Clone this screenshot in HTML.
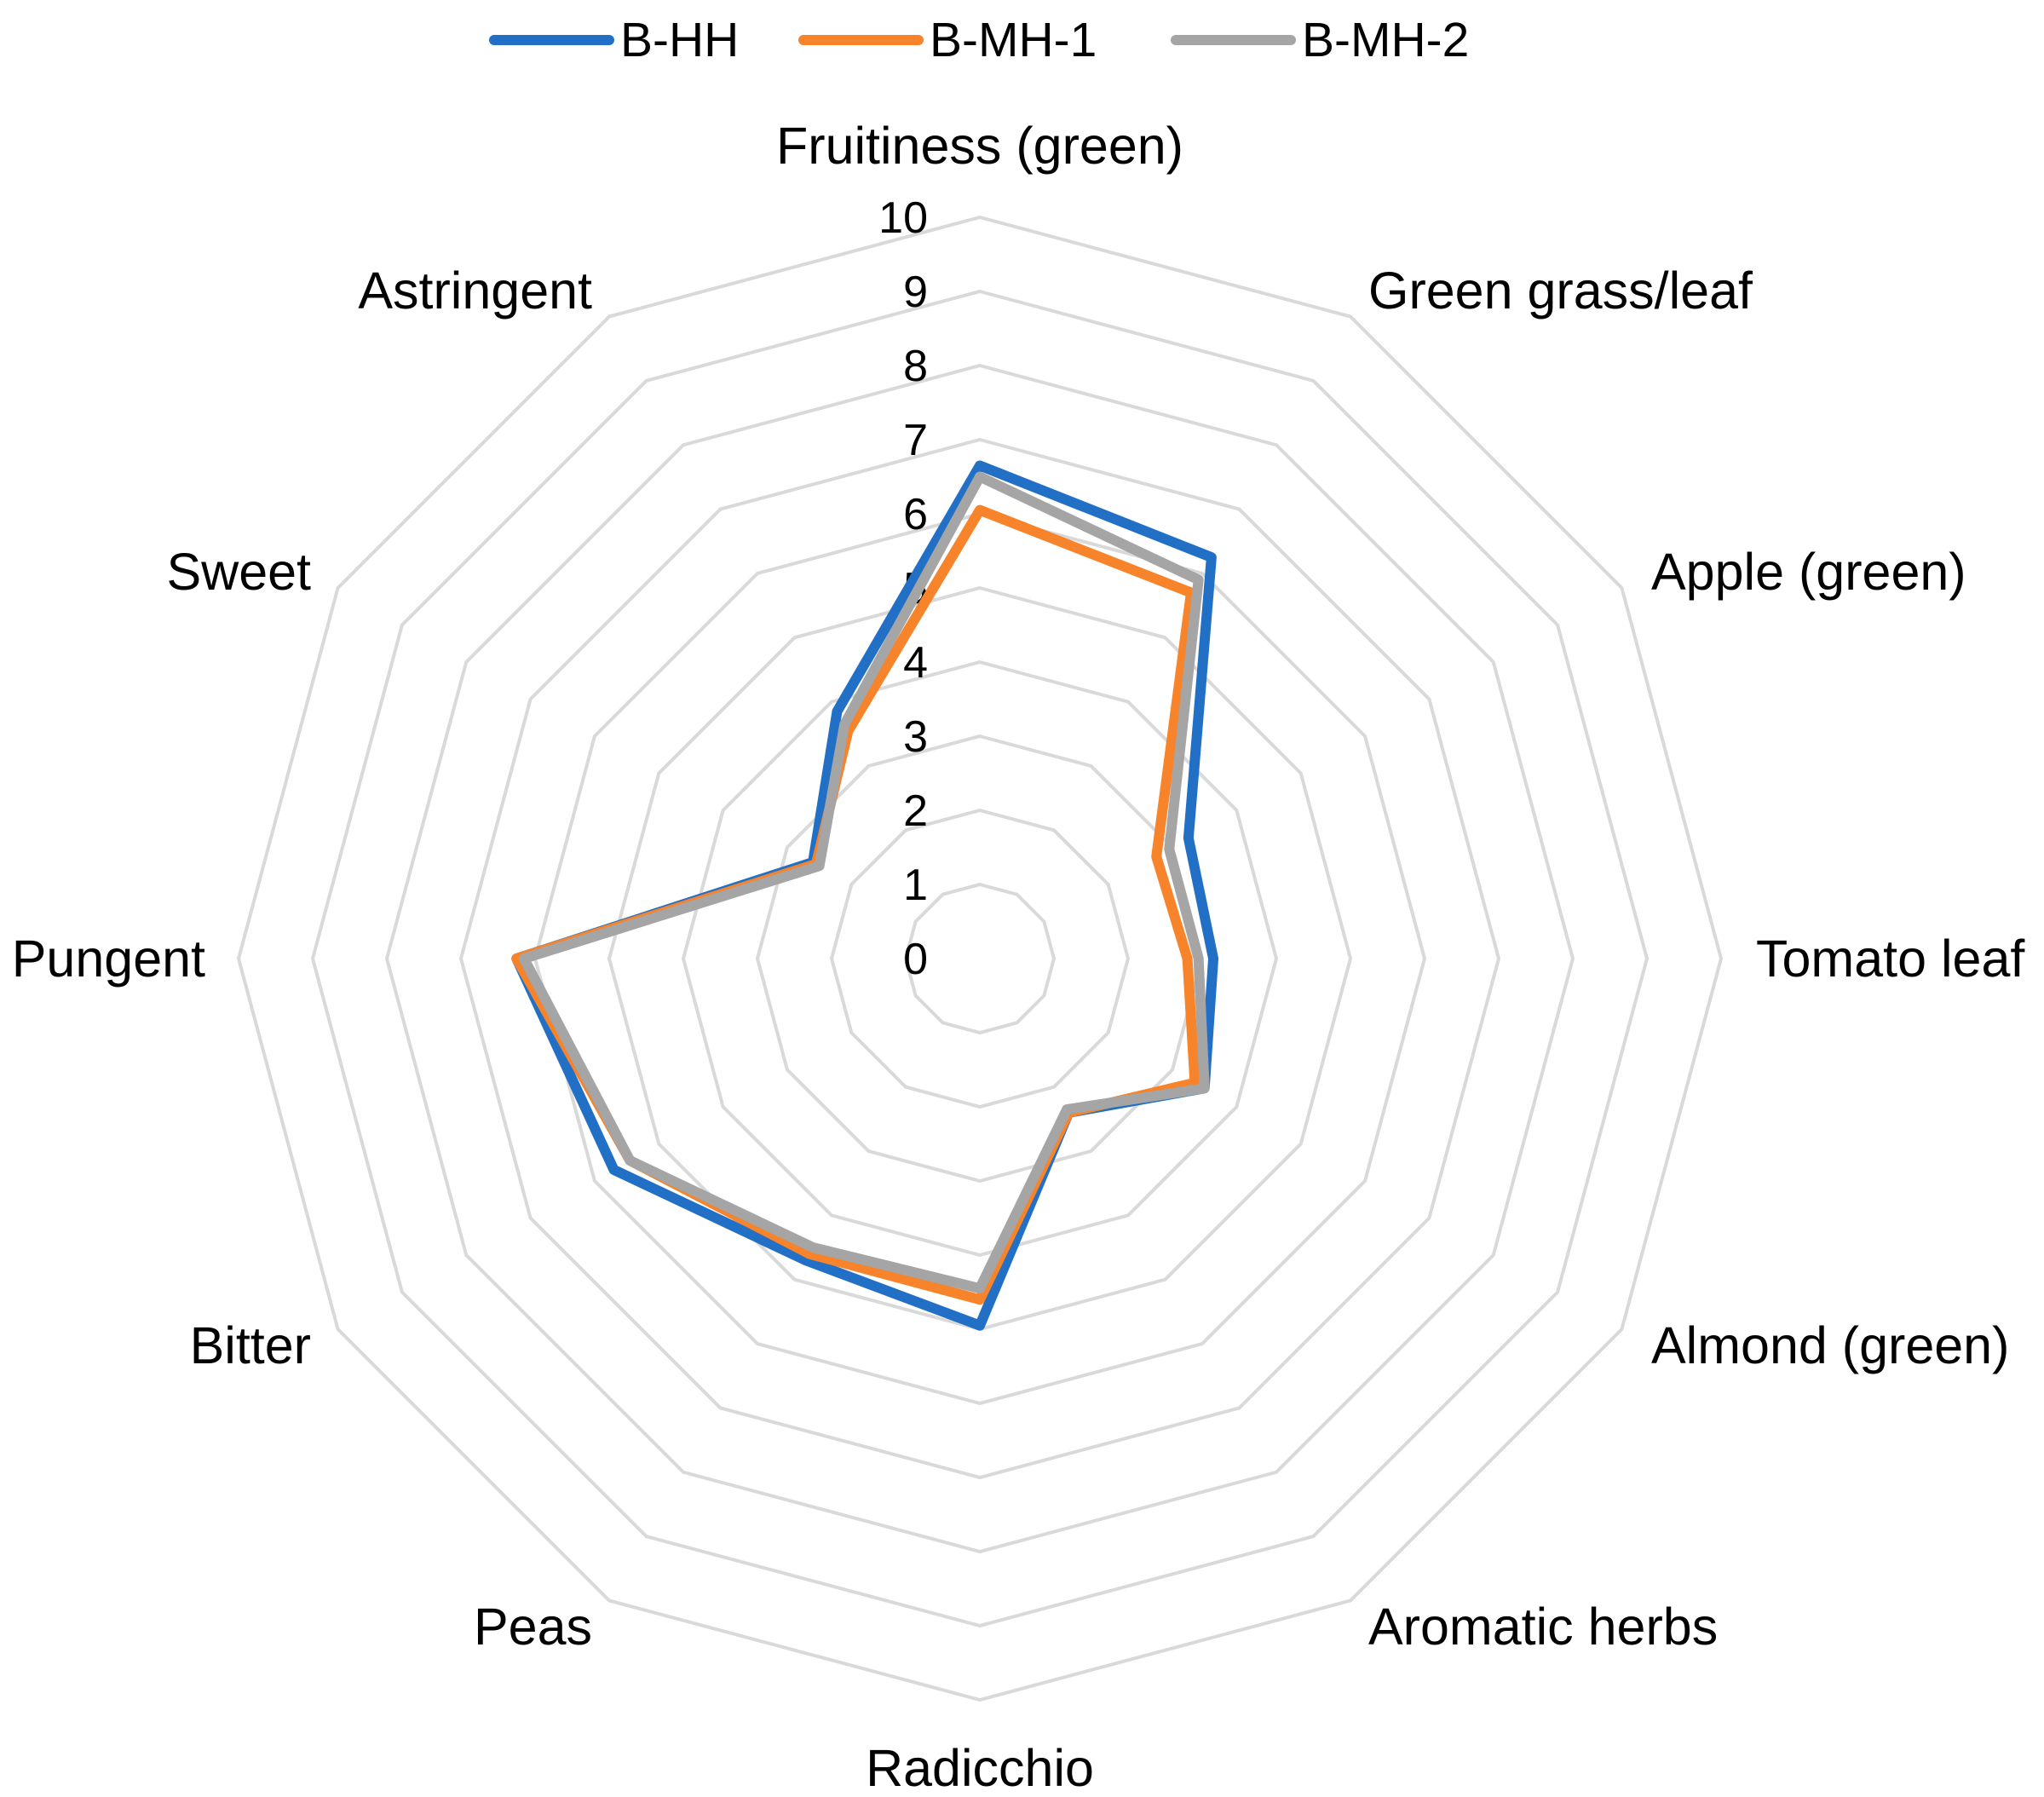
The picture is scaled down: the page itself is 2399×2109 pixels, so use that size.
<!DOCTYPE html>
<html><head><meta charset="utf-8"><style>
html,body{margin:0;padding:0;background:#fff;}
svg{display:block;font-family:"Liberation Sans",sans-serif;}
</style></head><body>
<svg id="chart" width="2399" height="2109" viewBox="0 0 2399 2109" xmlns="http://www.w3.org/2000/svg">
<g id="grid"></g>
<g id="ticks"></g>
<g id="cats"></g>
<g id="series"></g>
<g id="legend"></g>
</svg>
<script>
const categories = ["Fruitiness (green)","Green grass/leaf","Apple (green)","Tomato leaf","Almond (green)","Aromatic herbs","Radicchio","Peas","Bitter","Pungent","Sweet","Astringent"];
const seriesNames = ["B-HH","B-MH-1","B-MH-2"];
const valuesBHH = [6.65,6.25,3.25,3.15,3.5,2.4,4.95,4.7,5.7,6.25,2.6,3.85];
const valuesBMH1 = [6.05,5.7,2.75,2.8,3.35,2.4,4.6,4.6,5.45,6.25,2.55,3.55];
const valuesBMH2 = [6.5,5.9,2.95,2.95,3.5,2.35,4.45,4.5,5.45,6.15,2.5,3.65];
const tickLabels = ["0","1","2","3","4","5","6","7","8","9","10"];
const seriesColors = ["#2270c6","#f7832a","#a5a5a5"];

const NS="http://www.w3.org/2000/svg";
const cx=1150, cy=1125, R=870, maxV=10;
const n=categories.length;
// label layout (x, baseline y, anchor)
const labelLayout=[[1150,192,'middle'],[1606,362,'start'],[1938,692,'start'],[2061,1146,'start'],[1938,1600,'start'],[1606,1930,'start'],[1150,2096,'middle'],[695,1930,'end'],[365,1600,'end'],[241,1146,'end'],[365,692,'end'],[695,362,'end']];
function rScale(v){return v/maxV*R;}
function pt(i,v){const a=i*2*Math.PI/n;return [cx+rScale(v)*Math.sin(a), cy-rScale(v)*Math.cos(a)];}
function mk(tag,attrs,parent){const e=document.createElementNS(NS,tag);for(const k in attrs)e.setAttribute(k,attrs[k]);parent.appendChild(e);return e;}

const grid=document.getElementById('grid');
for(let t=1;t<tickLabels.length;t++){
  const v=+tickLabels[t];
  const pts=categories.map((c,i)=>pt(i,v).join(',')).join(' ');
  const g=mk('polygon',{points:pts,fill:'none',stroke:'#d9d9d9','stroke-width':4},grid);
  
  
}
const ticks=document.getElementById('ticks');
tickLabels.forEach(l=>{
  const v=+l;
  const tx=mk('text',{x:1089,y:cy-rScale(v)+18,'text-anchor':'end','font-size':52,fill:'#000'},ticks);
  tx.textContent=l;
  
  
});
const cats=document.getElementById('cats');
categories.forEach((c,i)=>{
  const L=labelLayout[i];
  const tx=mk('text',{x:L[0],y:L[1],'text-anchor':L[2],'font-size':61,fill:'#000'},cats);
  tx.textContent=c;
  
  
});
const series=document.getElementById('series');
[valuesBHH,valuesBMH1,valuesBMH2].forEach((vals,si)=>{
  const pts=vals.map((v,i)=>pt(i,v).join(',')).join(' ');
  const p=mk('polygon',{points:pts,fill:'none',stroke:seriesColors[si],'stroke-width':12,'stroke-linejoin':'round'},series);
  
  
});
const legend=document.getElementById('legend');
const lx=[580,943,1380];
seriesNames.forEach((s,si)=>{
  const g=mk('g',{},legend);
  
  
  mk('line',{x1:lx[si],y1:47,x2:lx[si]+135,y2:47,stroke:seriesColors[si],'stroke-width':12,'stroke-linecap':'round'},g);
  const t=mk('text',{x:lx[si]+148,y:66,'font-size':57,fill:'#000'},g);
  t.textContent=s;
});
</script>
</body></html>
